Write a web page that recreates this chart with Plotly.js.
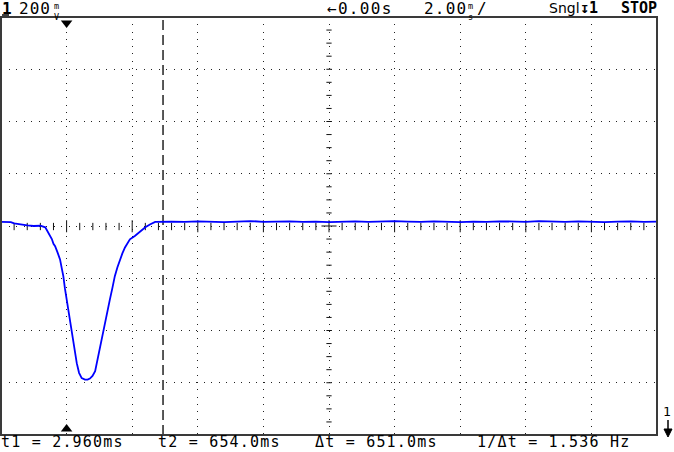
<!DOCTYPE html>
<html>
<head>
<meta charset="utf-8">
<script src="https://cdn.plot.ly/plotly-3.0.1.min.js"></script>
<style>html,body{margin:0;padding:0;background:#fff;}#chart{width:674px;height:452px;}</style>
</head>
<body>
<div id="chart"></div>
<script>
// ---- data (time in ms, voltage in mV, 2 ms/div, 200 mV/div) ----
const dipTimeMs = [-10.03, -9.7, -9.6, -9.45, -9.2, -9.0, -8.8, -8.65, -8.58, -8.51,
  -8.45, -8.40, -8.35, -8.28, -8.2, -8.15, -8.1, -8.05, -8.0, -7.95,
  -7.9, -7.85, -7.8, -7.75, -7.69, -7.62, -7.54, -7.44, -7.36, -7.29,
  -7.21, -7.13, -7.06, -6.98, -6.9, -6.83, -6.75, -6.68, -6.6, -6.53,
  -6.45, -6.37, -6.3, -6.22, -6.15, -6.07, -5.92, -5.76, -5.6, -5.46, -5.3];
const dipVoltageMv = [16, 15, 10, 6, 2, 0, 1, -5, -20, -39,
  -50, -68, -77, -100, -128, -160, -192, -240, -281, -330,
  -369, -410, -445, -490, -525, -562, -582, -588, -588, -584,
  -574, -556, -512, -458, -410, -369, -325, -281, -235, -192,
  -158, -128, -105, -82, -66, -51, -38, -20, -5, 6, 16];
const restTimeMs = [-4.8, -4.4, -4.0, -3.6, -3.2, -2.8, -2.4, -2.0, -1.6, -1.2,
  -0.8, -0.4, 0, 0.4, 0.8, 1.2, 1.6, 2.0, 2.4, 2.8,
  3.2, 3.6, 4.0, 4.4, 4.8, 5.2, 5.6, 6.0, 6.4, 6.8,
  7.2, 7.6, 8.0, 8.4, 8.8, 9.2, 9.6, 10.0];
const restVoltageMv = [17, 16, 18, 17, 15, 17, 19, 16, 17, 18,
  16, 17, 15, 17, 18, 16, 17, 19, 17, 16,
  18, 17, 15, 17, 16, 18, 17, 16, 19, 17,
  16, 18, 17, 15, 17, 18, 16, 17];
const cursor1Ms = -8.0;
const cursor2Ms = -5.06;
const topLabels = {vdiv: "200", vunit: "m<br>V", delay: "←0.00s", tdiv: "2.00", tunit: "m<br>s",
  mode: "Sngl", trig: "↧1", run: "STOP"};
const bottomLabels = ["t1 = 2.960ms", "t2 = 654.0ms", "Δt = 651.0ms", "1/Δt = 1.536 Hz"];

// ---- layout geometry ----
const W = 674, H = 452, L = 1, R = 657, T = 17, B = 435;
const px = x => (x - L) / (R - L);
const py = y => (B - y) / (B - T);
const FONT = "DejaVu Sans Mono";

const timeMs = dipTimeMs.concat(restTimeMs);
const voltageMv = dipVoltageMv.concat(restVoltageMv);

const shapes = [];
// frame
shapes.push({type: 'rect', xref: 'paper', yref: 'paper', x0: 0, x1: 1, y0: 0, y1: 1,
  line: {color: '#3a3a3a', width: 2}, layer: 'above'});
shapes.push({type: 'line', xref: 'paper', yref: 'paper', x0: px(0), x1: 1, y0: 1, y1: 1,
  line: {color: '#3a3a3a', width: 2}});
// ticks on the centre horizontal line
for (let k = -25; k <= 25; k++) {
  const t = k * 0.4;
  const major = (k % 5 === 0);
  shapes.push({type: 'line', xref: 'x', yref: 'y', x0: t, x1: t,
    y0: major ? -24 : -16, y1: major ? 22 : 12, line: {color: '#111', width: 1}, layer: 'below'});
}
// ticks on the centre vertical line
for (let k = -16; k <= 16; k++) {
  const v = k * 50;
  const hw = (k === 0) ? 0.23 : 0.08;
  shapes.push({type: 'line', xref: 'x', yref: 'y', x0: -hw, x1: hw,
    y0: v, y1: v, line: {color: '#111', width: 1}, layer: 'below'});
}
// cursor t2 (dashed)
shapes.push({type: 'line', xref: 'x', yref: 'paper', x0: cursor2Ms, x1: cursor2Ms, y0: 0, y1: 1,
  line: {color: '#222', width: 1.5, dash: '10px,5px'}, layer: 'below'});
// underline under channel "1"
shapes.push({type: 'line', xref: 'paper', yref: 'paper', x0: px(2), x1: px(9), y0: py(15), y1: py(15),
  line: {color: '#000', width: 1.5}});
// ground reference arrow at right
shapes.push({type: 'line', xref: 'paper', yref: 'paper', x0: px(668), x1: px(668), y0: py(420), y1: py(432),
  line: {color: '#000', width: 1.5}});
shapes.push({type: 'path', xref: 'paper', yref: 'paper',
  path: `M ${px(664)} ${py(429)} L ${px(672)} ${py(429)} L ${px(668)} ${py(437)} Z`,
  fillcolor: '#000', line: {color: '#000', width: 1}});

function ann(text, x, y, size, extra) {
  return Object.assign({xref: 'paper', yref: 'paper', x: px(x), y: py(y), text: text,
    showarrow: false, xanchor: 'left', yanchor: 'middle', borderpad: 0,
    font: {family: FONT, size: size, color: '#000'}}, extra || {});
}
const sp = (s, ls) => `<span style="letter-spacing:${ls}px">${s}</span>`;
const bottomExtra = {yanchor: 'bottom'};
const unitExtra = {yanchor: 'top'};
const annotations = [
  ann('<b>1</b>', 1, 8, 16),
  ann(sp(topLabels.vdiv, 1), 18, 8, 16),
  ann(topLabels.vunit, 53, 0, 8.5, unitExtra),
  ann(sp(topLabels.delay, 1.3), 326, 8, 16),
  ann(sp(topLabels.tdiv, 1.2), 423, 8, 16),
  ann(topLabels.tunit, 467, 0, 8.5, unitExtra),
  ann('/', 476, 8, 16),
  ann(topLabels.mode, 548, 8, 15, {font: {family: 'DejaVu Sans', size: 14, color: '#000'}}),
  ann('<b>' + topLabels.trig + '</b>', 579, 8, 15),
  ann('<b>' + topLabels.run + '</b>', 620, 8, 15),
  ann(sp(bottomLabels[0], 1.2), 0, 452, 15, bottomExtra),
  ann(sp(bottomLabels[1], 1.2), 157, 452, 15, bottomExtra),
  ann(sp(bottomLabels[2], 1.2), 314, 452, 15, bottomExtra),
  ann(sp(bottomLabels[3], 1.2), 476, 452, 15, bottomExtra),
  ann('1', 662, 411, 13)
];

const traces = [
  {x: timeMs, y: voltageMv, type: 'scatter', mode: 'lines',
   line: {color: '#0000ff', width: 1.8}, hoverinfo: 'skip'},
  {x: [cursor1Ms, cursor1Ms], y: [777, -777], type: 'scatter', mode: 'markers', cliponaxis: false,
   marker: {symbol: ['triangle-down', 'triangle-up'], size: 10, color: '#000'}, hoverinfo: 'skip'}
];

const layout = {
  width: W, height: H,
  margin: {l: L, r: W - R, t: T, b: H - B, pad: 0},
  paper_bgcolor: '#fff', plot_bgcolor: '#fff',
  showlegend: false,
  xaxis: {range: [-10, 10], dtick: 2, tick0: 0, showticklabels: false, ticks: '',
    showgrid: true, gridcolor: '#222', gridwidth: 1, griddash: '1px,6.3px',
    zeroline: false, showline: false, fixedrange: true},
  yaxis: {range: [-800, 800], dtick: 200, tick0: 0, showticklabels: false, ticks: '',
    showgrid: true, gridcolor: '#222', gridwidth: 1, griddash: '1px,6.5px',
    zeroline: false, showline: false, fixedrange: true},
  shapes: shapes,
  annotations: annotations
};

Plotly.newPlot('chart', traces, layout, {staticPlot: true, displayModeBar: false});
</script>
</body>
</html>
